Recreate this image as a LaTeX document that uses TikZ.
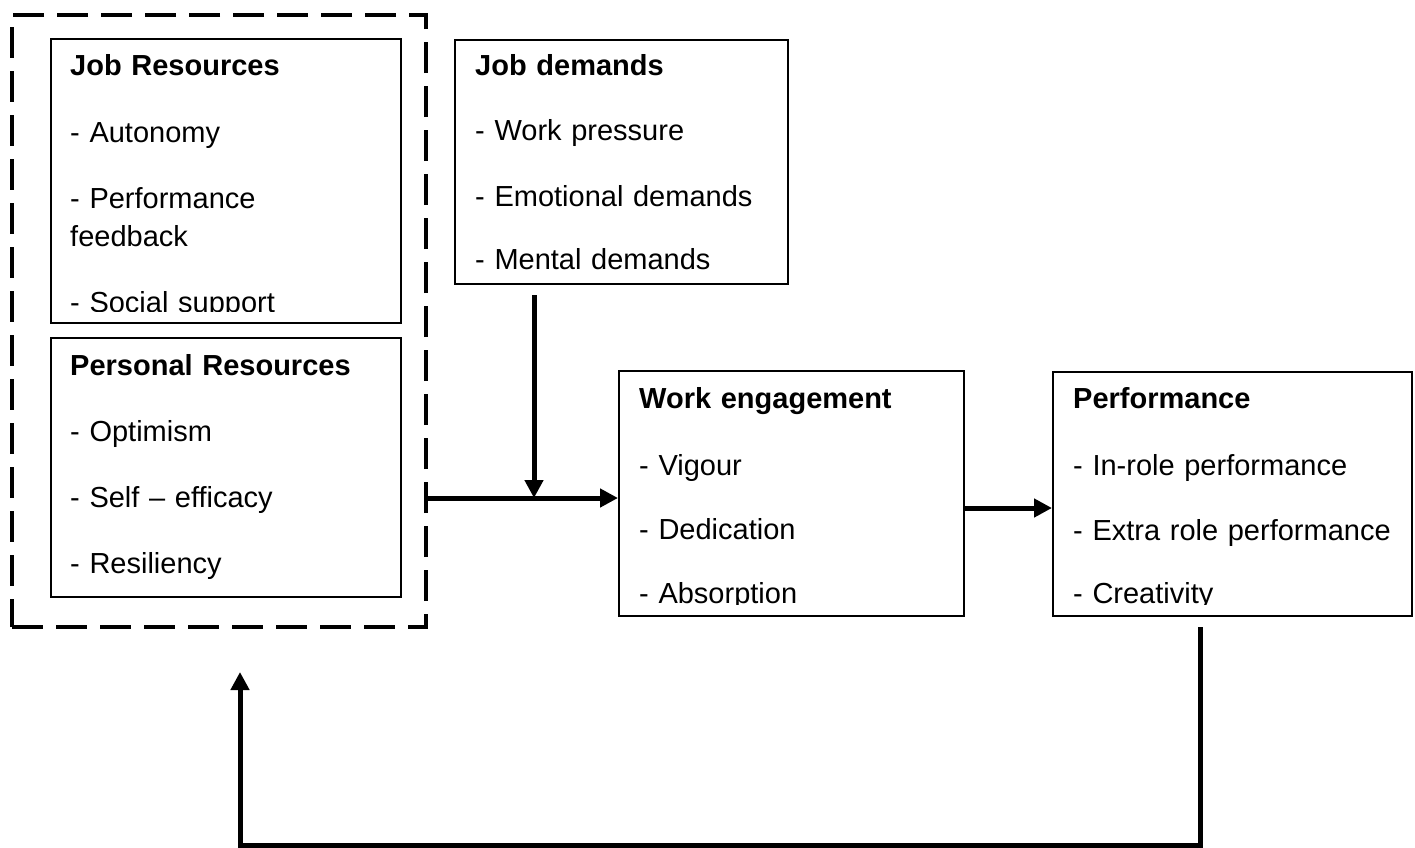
\documentclass[tikz,border=0pt]{standalone}
\usepackage{fontspec}
\setmainfont{Liberation Sans}
\usetikzlibrary{arrows.meta,calc}
\begin{document}
\begin{tikzpicture}[x=1pt,y=-1pt,
  boxnode/.style={draw=black,line width=1.5pt,rectangle,anchor=north west,inner sep=0pt},
  dashbox/.style={draw=black,line width=4pt,dash pattern=on 31pt off 13pt,rectangle,anchor=north west,inner sep=0pt},
  txt/.style={anchor=base west,inner sep=0pt,align=left,text width=420pt,font=\fontsize{29}{38}\selectfont},
  bigarrow/.style={line width=5pt,-{Triangle[length=18pt,width=18pt]}},
  plainline/.style={line width=5pt}
]
\useasboundingbox (0,0) rectangle (1415,847);

% outer dashed resources box
\node[dashbox,minimum width=414pt,minimum height=612pt] (res) at (10,13) {};

% box frames
\node[boxnode,minimum width=350pt,minimum height=284pt] (jr) at (50,38) {};
\node[boxnode,minimum width=350pt,minimum height=259pt] (pr) at (50,337) {};
\node[boxnode,minimum width=333pt,minimum height=244pt] (jd) at (454,39) {};
\node[boxnode,minimum width=345pt,minimum height=245pt] (we) at (618,370) {};
\node[boxnode,minimum width=359pt,minimum height=244pt] (pf) at (1052,371) {};

% texts (clipped at bottom like the original)
\begin{scope}
\clip ($(jr.north west)$) rectangle ($(jr.south east)+(0,-12)$);
\node[txt] (jrt) at ($(jr.north west)+(20,37)$) {\textbf{Job Resources}\\[29pt]- Autonomy\\[28pt]- Performance\\feedback\\[28pt]- Social support};
\end{scope}
\node[txt] (prt) at ($(pr.north west)+(20,38)$) {\textbf{Personal Resources}\\[28pt]- Optimism\\[28pt]- Self – efficacy\\[28pt]- Resiliency};
\begin{scope}
\clip ($(jd.north west)$) rectangle ($(jd.south east)+(0,-12)$);
\node[txt] (jdt) at ($(jd.north west)+(21,36)$) {\textbf{Job demands}\\[27pt]- Work pressure\\[28pt]- Emotional demands\\[25pt]- Mental demands};
\end{scope}
\begin{scope}
\clip ($(we.north west)$) rectangle ($(we.south east)+(0,-12)$);
\node[txt] (wet) at ($(we.north west)+(21,38)$) {\textbf{Work engagement}\\[29pt]- Vigour\\[26pt]- Dedication\\[26pt]- Absorption};
\end{scope}
\begin{scope}
\clip ($(pf.north west)$) rectangle ($(pf.south east)+(0,-12)$);
\node[txt] (pft) at ($(pf.north west)+(21,37)$) {\textbf{Performance}\\[29pt]- In-role performance\\[27pt]- Extra role performance\\[25pt]- Creativity};
\end{scope}

% connectors
\coordinate (junc) at (534,498);
\coordinate (jdout) at (534,295);
\coordinate (fbstart) at (1200,627);
\coordinate (fbcorner) at (1200,845);
\coordinate (fbend) at (240,672);
\coordinate (weout) at (963,508);

\draw[bigarrow] (res.east |- junc) -- (we.west |- junc);
\draw[bigarrow] (jdout) -- (junc);
\draw[bigarrow] (we.east |- weout) -- (pf.west |- weout);
\draw[plainline,line join=miter] (fbstart) -- (fbcorner) -- (fbend |- fbcorner) -- ($(fbend)+(0,10)$);
\draw[bigarrow] ($(fbend)+(0,12)$) -- (fbend);
\end{tikzpicture}
\end{document}
